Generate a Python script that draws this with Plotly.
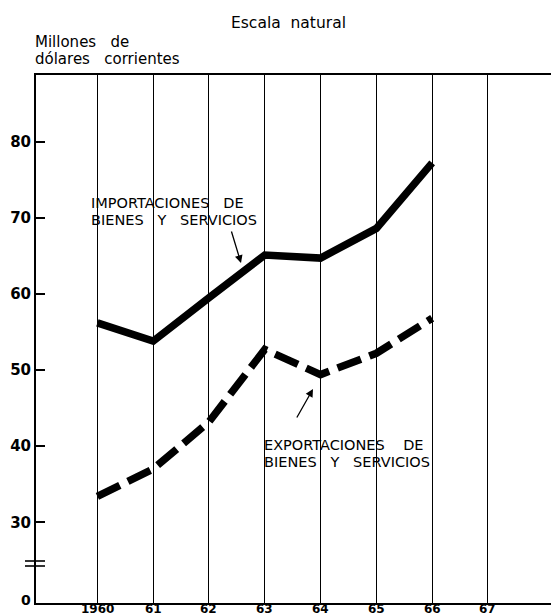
import plotly.graph_objects as go

# ---- data ----
years = [1960, 1961, 1962, 1963, 1964, 1965, 1966]
importaciones = [56.2, 53.8, 59.5, 65.1, 64.7, 68.6, 77.2]
exportaciones = [33.4, 37.0, 43.2, 52.7, 49.4, 52.2, 56.8]
x_tickvals = [1960, 1961, 1962, 1963, 1964, 1965, 1966, 1967]
x_ticktext = ["1960", "61", "62", "63", "64", "65", "66", "67"]
y_tickvals = [30, 40, 50, 60, 70, 80]
y_ticktext = ["30", "40", "50", "60", "70", "80"]

# ---- layout geometry ----
W, H = 551, 614
ML, MR, MT, MB = 36, 0, 75, 11
X0, X1 = 1958.9, 1968.13
Y0, Y1 = 19.4, 88.75
PW, PH = W - ML - MR, H - MT - MB


def px2x(px):
    return X0 + (px - ML) / PW * (X1 - X0)


def px2y(py):
    return Y1 - (py - MT) / PH * (Y1 - Y0)


FONT = "DejaVu Sans"
SP = "\u00a0"

fig = go.Figure()
fig.add_trace(go.Scatter(x=years, y=importaciones, mode="lines",
                         line=dict(color="black", width=7.5),
                         hoverinfo="skip", showlegend=False))
fig.add_trace(go.Scatter(x=years, y=exportaciones, mode="lines",
                         line=dict(color="black", width=7.5, dash="25px,9px"),
                         hoverinfo="skip", showlegend=False))

ann = []
ann.append(dict(text="Escala" + SP * 2 + "natural", x=288, y=23, size=15.5))
ann.append(dict(text="Millones" + SP * 3 + "de", x=33, y=42, xanchor="left", size=15))
ann.append(dict(text="dólares" + SP * 3 + "corrientes", x=33, y=59, xanchor="left", size=15))
ann.append(dict(text="IMPORTACIONES" + SP * 3 + "DE", x=89, y=203, xanchor="left", size=14.5))
ann.append(dict(text="BIENES" + SP * 3 + "Y" + SP * 3 + "SERVICIOS", x=89, y=220, xanchor="left", size=14.5))
ann.append(dict(text="EXPORTACIONES" + SP * 4 + "DE", x=262, y=445, xanchor="left", size=14.5))
ann.append(dict(text="BIENES" + SP * 3 + "Y" + SP * 3 + "SERVICIOS", x=262, y=462, xanchor="left", size=14.5))

annotations = []
for a in ann:
    annotations.append(dict(
        text=a["text"], xref="paper", yref="paper",
        x=(a["x"] - ML) / PW, y=1 - (a["y"] - MT) / PH,
        xanchor=a.get("xanchor", "center"), yanchor="middle",
        showarrow=False, font=dict(family=FONT, size=a["size"], color="black")))

# "0" label under the axis break
annotations.append(dict(
    text="<b>0</b>", xref="paper", yref="paper",
    x=(26 - ML) / PW, y=1 - (600 - MT) / PH, xanchor="center", yanchor="middle",
    showarrow=False, font=dict(family=FONT, size=14, color="black")))

# x tick labels, placed just under the axis so they stay inside the page
for xv, xt in zip(x_tickvals, x_ticktext):
    annotations.append(dict(
        text="<b>%s</b>" % xt, xref="x", yref="paper", x=xv,
        y=1 - (609 - MT) / PH, xanchor="center", yanchor="middle",
        showarrow=False, borderpad=0,
        font=dict(family=FONT, size=12, color="black")))

# arrows
for (tx, ty, hx, hy) in [(231, 230, 241, 263), (296, 419, 313, 389)]:
    annotations.append(dict(
        x=px2x(hx), y=px2y(hy), ax=px2x(tx), ay=px2y(ty),
        xref="x", yref="y", axref="x", ayref="y", text="",
        showarrow=True, arrowhead=2, arrowsize=1.2, arrowwidth=1.3, arrowcolor="black"))

shapes = []
for py in (561, 566):
    shapes.append(dict(type="line", xref="paper", yref="paper",
                       x0=(25 - ML) / PW, x1=(45 - ML) / PW,
                       y0=1 - (py - MT) / PH, y1=1 - (py - MT) / PH,
                       line=dict(color="black", width=1.6)))

fig.update_layout(
    width=W, height=H,
    margin=dict(l=ML, r=MR, t=MT, b=MB, autoexpand=False),
    paper_bgcolor="white", plot_bgcolor="white",
    annotations=annotations, shapes=shapes,
    font=dict(family=FONT, color="black"),
    xaxis=dict(range=[X0, X1], tickvals=x_tickvals, showticklabels=False,
               showgrid=True, gridcolor="black", gridwidth=1.1,
               showline=True, linecolor="black", linewidth=2, mirror=True,
               ticks="", zeroline=False, automargin=False),
    yaxis=dict(range=[Y0, Y1], tickvals=y_tickvals,
               ticktext=["<b>%s</b>" % t for t in y_ticktext],
               showgrid=False, showline=True, linecolor="black", linewidth=2,
               ticks="inside", ticklen=9, tickwidth=1.5, tickcolor="black",
               zeroline=False, automargin=False,
               tickfont=dict(family=FONT, size=15, color="black")),
)

fig.write_html("out.html", config={"displayModeBar": False},
               post_script="document.body.style.margin='0';document.body.style.overflow='hidden';")
